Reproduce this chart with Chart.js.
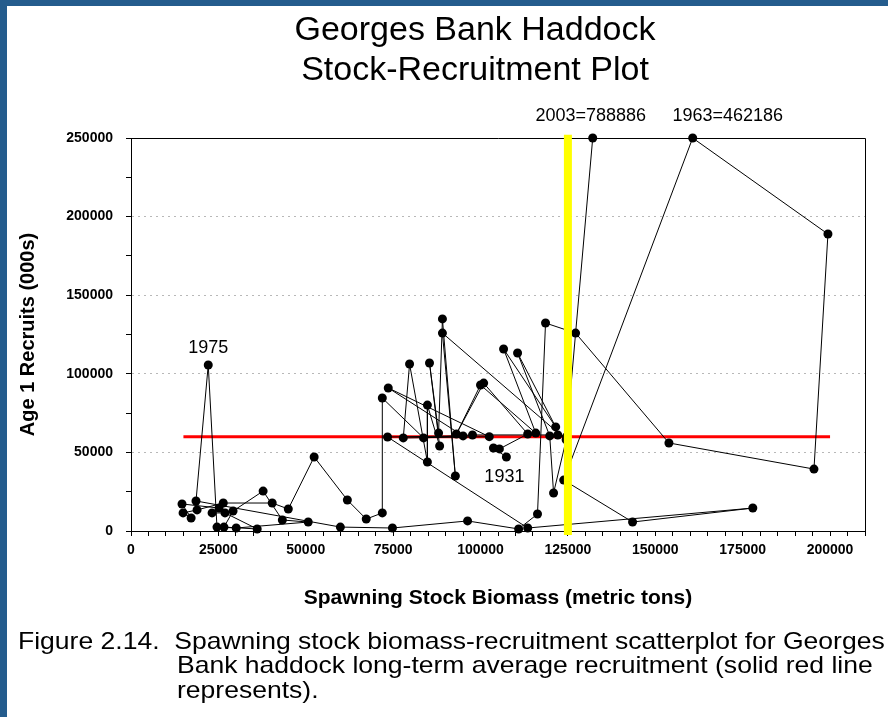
<!DOCTYPE html>
<html>
<head>
<meta charset="utf-8">
<script src="https://cdn.jsdelivr.net/npm/chart.js@4.4.1/dist/chart.umd.min.js"></script>
<style>
  html, body { margin: 0; padding: 0; background: #fff; }
  body { width: 888px; height: 717px; position: relative; overflow: hidden; font-family: 'Liberation Sans', Arial, sans-serif; color: #000; }
  #chart { position: absolute; left: 0; top: 0; }
  .edge { position: absolute; background: #245c8d; }
  .title { position: absolute; left: 0; width: 950px; text-align: center; font-size: 34px; line-height: 40px; white-space: nowrap; }
  .caption { position: absolute; font-size: 24px; line-height: 25px; white-space: nowrap; transform-origin: 0 50%; }
</style>
</head>
<body>
<canvas id="chart" width="888" height="717"></canvas>
<div class="edge" style="left:0;top:0;width:888px;height:6px"></div>
<div class="edge" style="left:0;top:0;width:7px;height:717px"></div>
<div class="title" style="top:8px">Georges Bank Haddock</div>
<div class="title" style="top:48px">Stock-Recruitment Plot</div>
<div class="caption" id="cap1" style="left:18px;top:628px">Figure 2.14.&nbsp; Spawning stock biomass-recruitment scatterplot for Georges</div>
<div class="caption" id="cap2" style="left:177px;top:652px">Bank haddock long-term average recruitment (solid red line</div>
<div class="caption" id="cap3" style="left:177px;top:677px">represents).</div>
<script>
// Années 1931-2003
const years = [];
for (let y = 1931; y <= 2003; y++) years.push(y);

// Biomasse du stock reproducteur (tonnes)
const ssb = [
    107400, 103700, 105400, 113500, 100900, 93100, 100000, 115800, 106600, 121500,
    110600, 119800, 120900, 124500, 89100, 92800, 89100, 88000, 85400, 88300,
    84800, 84800, 79700, 77900, 102500, 73600, 95000, 73400, 113500, 177900,
    143500, 123800, 160700, 199400, 195400, 153900, 127200, 118600, 116300, 110900,
    96300, 74800, 59900, 18600, 22100, 24600, 30100, 50700, 43300, 37800,
    29200, 26600, 36100, 26900, 23200, 25200, 14600, 17200, 14900, 18900,
    26400, 40400, 45000, 52400, 61900, 67300, 71900, 71900, 83700, 97700,
    122100, 124600, 132100
];

// Recrues d'âge 1 (milliers) - 1963 et 2003 plafonnés à 250000 comme sur le graphique
const recruits = [
    47100, 52800, 52200, 61700, 94100, 61700, 92900, 62300, 115800, 66200,
    113200, 60500, 24200, 58000, 125900, 35000, 134900, 62300, 106900, 54100,
    80100, 43900, 106200, 59200, 60000, 91000, 60500, 59800, 1900, 14600,
    5700, 32400, 250000, 188900, 39400, 56000, 125900, 132300, 10800, 1300,
    6400, 1900, 2500, 19100, 105600, 2500, 1900, 5700, 7000, 25400,
    12700, 2500, 1300, 11500, 11500, 14600, 17200, 8300, 11500, 13400,
    17800, 17800, 14000, 47100, 19700, 7600, 11500, 84600, 59200, 61100,
    61100, 60000, 250000
];

// Recrutement moyen à long terme (ligne rouge) et SSB de référence (ligne jaune)
const avgRecruits = 60000;
const avgSpan = [15000, 200000];
const refSSB = 125000;

// Graduations
const xLabelTicks = [0, 25000, 50000, 75000, 100000, 125000, 150000, 175000, 200000];
const yLabelTicks = [0, 50000, 100000, 150000, 200000, 250000];
const xMax = 210000, xMinor = 5000;
const yMax = 250000, yMinor = 25000;

// Étiquettes sur le graphique
const notes = [
    { year: 1975, text: '1975', dx: 0, dy: -17 },
    { year: 1931, text: '1931', dx: -2, dy: 20 },
    { year: 2003, text: '2003=788886', dx: -2, dy: -22 },
    { year: 1963, text: '1963=462186', dx: 35, dy: -22 }
];

const points = years.map((yr, i) => ({ x: ssb[i], y: recruits[i] }));

const tickFont = { family: "'Liberation Sans', Arial, sans-serif", size: 14, weight: 'bold' };

// Cadre haut/droit + étiquettes
const framePlugin = {
    id: 'frame',
    beforeDatasetsDraw(chart) {
        const { ctx, chartArea: a } = chart;
        ctx.save();
        ctx.strokeStyle = '#000';
        ctx.lineWidth = 1;
        ctx.beginPath();
        ctx.moveTo(a.left, a.top + 0.5);
        ctx.lineTo(a.right + 0.5, a.top + 0.5);
        ctx.lineTo(a.right + 0.5, a.bottom);
        ctx.stroke();
        ctx.restore();
    },
    afterDatasetsDraw(chart) {
        const { ctx, scales } = chart;
        ctx.save();
        ctx.fillStyle = '#000';
        ctx.font = "18px 'Liberation Sans', Arial, sans-serif";
        ctx.textAlign = 'center';
        ctx.textBaseline = 'middle';
        notes.forEach(n => {
            const i = years.indexOf(n.year);
            const px = scales.x.getPixelForValue(ssb[i]);
            const py = scales.y.getPixelForValue(recruits[i]);
            ctx.fillText(n.text, px + n.dx, py + n.dy);
        });
        ctx.restore();
    }
};

new Chart(document.getElementById('chart'), {
    type: 'scatter',
    data: {
        datasets: [
            {
                label: 'SSB ref',
                data: [{ x: refSSB, y: -2500 }, { x: refSSB, y: 252000 }],
                showLine: true,
                borderColor: '#ffff00',
                borderWidth: 8,
                pointRadius: 0,
                clip: false
            },
            {
                label: 'Stock-recrutement',
                data: points,
                showLine: true,
                borderColor: '#000',
                borderWidth: 1,
                pointRadius: 4.5,
                pointBackgroundColor: '#000',
                pointBorderColor: '#000',
                pointBorderWidth: 0,
                clip: false
            },
            {
                label: 'Moyenne',
                data: [{ x: avgSpan[0], y: avgRecruits }, { x: avgSpan[1], y: avgRecruits }],
                showLine: true,
                borderColor: '#ff0000',
                borderWidth: 3,
                pointRadius: 0
            }
        ]
    },
    options: {
        responsive: false,
        animation: false,
        devicePixelRatio: 1,
        layout: { padding: { left: 16, top: 138, right: 23, bottom: 106.4 } },
        plugins: { legend: { display: false }, tooltip: { enabled: false } },
        scales: {
            x: {
                type: 'linear',
                min: 0,
                max: xMax,
                afterBuildTicks: s => {
                    const t = [];
                    for (let v = 0; v <= xMax; v += xMinor) t.push({ value: v });
                    s.ticks = t;
                },
                afterFit: s => { s.height = 79.6; },
                ticks: {
                    autoSkip: false,
                    maxRotation: 0,
                    padding: 6,
                    color: '#000',
                    font: tickFont,
                    callback: v => xLabelTicks.includes(v) ? String(v) : ''
                },
                grid: { drawOnChartArea: false, tickLength: 5, tickColor: '#000', tickWidth: 1 },
                border: { color: '#000', width: 1 },
                title: {
                    display: true,
                    text: 'Spawning Stock Biomass (metric tons)',
                    color: '#000',
                    padding: 0,
                    font: { family: "'Liberation Sans', Arial, sans-serif", size: 21, weight: 'bold' }
                }
            },
            y: {
                type: 'linear',
                min: 0,
                max: yMax,
                afterBuildTicks: s => {
                    const t = [];
                    for (let v = 0; v <= yMax; v += yMinor) t.push({ value: v });
                    s.ticks = t;
                },
                afterFit: s => { s.width = 115; },
                ticks: {
                    autoSkip: false,
                    padding: 13,
                    color: '#000',
                    font: tickFont,
                    callback: v => yLabelTicks.includes(v) ? String(v) : ''
                },
                grid: {
                    color: c => (c.tick && c.tick.value % 50000 === 0 && c.tick.value > 0 && c.tick.value < yMax) ? '#b8b8b8' : 'rgba(0,0,0,0)',
                    lineWidth: 1,
                    tickLength: 5,
                    tickColor: '#000',
                    tickWidth: 1,
                    tickBorderDash: []
                },
                border: { color: '#000', width: 1, dash: [2, 4] },
                title: {
                    display: true,
                    text: 'Age 1 Recruits (000s)',
                    color: '#000',
                    padding: 0,
                    font: { family: "'Liberation Sans', Arial, sans-serif", size: 20, weight: 'bold' }
                }
            }
        }
    },
    plugins: [framePlugin]
});

// Ajuster la largeur de la légende à celle de l'original
const cap1 = document.getElementById('cap1');
const k = 867 / cap1.getBoundingClientRect().width;
['cap1', 'cap2', 'cap3'].forEach(id => {
    document.getElementById(id).style.transform = 'scaleX(' + k.toFixed(3) + ')';
});
</script>
</body>
</html>
